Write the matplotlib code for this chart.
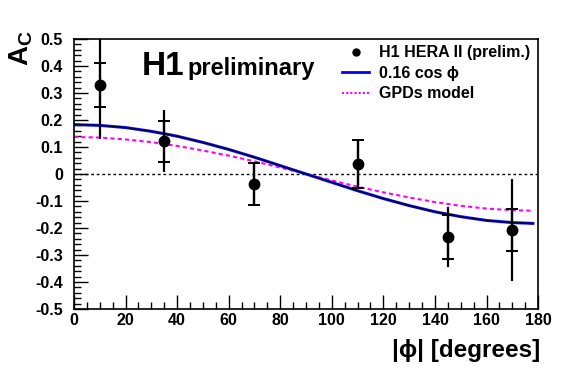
import matplotlib
matplotlib.use("Agg")
import matplotlib.pyplot as plt
from matplotlib.ticker import MultipleLocator

plt.rcParams['font.family'] = ['Liberation Sans', 'DejaVu Sans']
plt.rcParams['font.weight'] = 'bold'

# H1 data points
phi = [10, 35, 70, 110, 145, 170]
ac = [0.33, 0.122, -0.037, 0.037, -0.233, -0.207]
stat_err = [0.083, 0.076, 0.078, 0.09, 0.08, 0.077]
tot_err = [0.20, 0.116, 0.08, 0.093, 0.11, 0.19]

# curves
curve_phi = [0, 10, 20, 30, 40, 50, 60, 70, 80, 90, 100, 110, 120, 130, 140, 150, 160, 170, 178]
fit_vals = [0.183, 0.180, 0.172, 0.158, 0.140, 0.117, 0.091, 0.062, 0.031, 0.0,
            -0.031, -0.062, -0.091, -0.117, -0.140, -0.158, -0.172, -0.180, -0.183]
gpd_vals = [0.137, 0.135, 0.128, 0.118, 0.104, 0.087, 0.068, 0.047, 0.024, 0.0,
            -0.024, -0.047, -0.068, -0.087, -0.104, -0.118, -0.128, -0.134, -0.136]

fig = plt.figure(figsize=(5.67, 3.73), dpi=100)
ax = fig.add_axes([0.1305, 0.1716, 0.8185, 0.7238])

ax.plot([0, 180], [0, 0], color='black', lw=1, ls=(0, (2, 2)))
ax.plot(curve_phi, gpd_vals, color='#ff00ff', lw=1.5, ls=(0, (2, 1.5)))
ax.plot(curve_phi, fit_vals, color='#1a1aff', lw=2.2)
ax.plot(curve_phi, fit_vals, color='#000050', lw=1.2)

ax.errorbar(phi, ac, yerr=tot_err, fmt='none', ecolor='black', elinewidth=1.6, capsize=0)
ax.errorbar(phi, ac, yerr=stat_err, fmt='none', ecolor='black', elinewidth=1.6,
            capsize=4, capthick=1.4)
ax.plot(phi, ac, 'o', color='black', ms=7.5)

# legend handles
h_data, = ax.plot([], [], 'o', color='black', ms=5, label='H1 HERA II (prelim.)')
h_fit, = ax.plot([], [], color='#0000ff', lw=2, label='0.16 cos \u03d5')
h_gpd, = ax.plot([], [], color='#ff00ff', lw=1.5, ls=(0, (1, 1)), label='GPDs model')
ax.legend(handles=[h_data, h_fit, h_gpd], loc='upper left', bbox_to_anchor=(0.547, 1.03),
          frameon=False, handlelength=1.7, handletextpad=0.6,
          labelspacing=0.35, prop={'weight': 'bold', 'size': 11.5})

ax.set_xlim(0, 180)
ax.set_ylim(-0.5, 0.5)
ax.xaxis.set_major_locator(MultipleLocator(20))
ax.xaxis.set_minor_locator(MultipleLocator(5))
ax.yaxis.set_major_locator(MultipleLocator(0.1))
ax.yaxis.set_minor_locator(MultipleLocator(0.02))
ax.yaxis.set_major_formatter(plt.FuncFormatter(lambda v, p: '0' if abs(v) < 1e-9 else f'{v:.1f}'))
ax.tick_params(which='both', direction='in', top=False, right=False, labelsize=11.5, width=1)
ax.tick_params(which='major', length=10)
ax.tick_params(which='minor', length=5)
ax.tick_params(axis='x', pad=3)
ax.tick_params(axis='y', pad=8)
for lab in ax.get_xticklabels() + ax.get_yticklabels():
    lab.set_fontweight('bold')
for s in ax.spines.values():
    s.set_linewidth(1.2)

fig.text(0.012, 0.92, 'A$_\\mathregular{C}$', rotation=90, fontsize=20, fontweight='bold',
         ha='left', va='top')
fig.text(0.952, 0.03, '|\u03d5| [degrees]', fontsize=17.5, fontweight='bold', ha='right', va='bottom')
ax.text(0.146, 0.865, 'H1', transform=ax.transAxes, fontsize=24, fontweight='bold')
ax.text(0.245, 0.865, 'preliminary', transform=ax.transAxes, fontsize=17, fontweight='bold')

fig.savefig('out.png', dpi=100)
